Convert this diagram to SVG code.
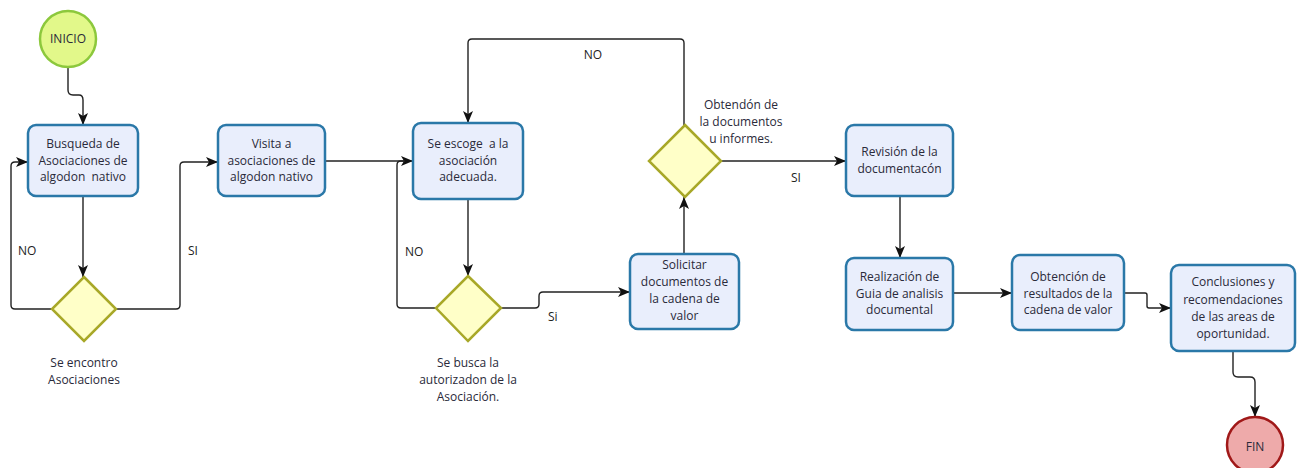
<svg xmlns="http://www.w3.org/2000/svg" width="1298" height="468" viewBox="0 0 1298 468">
<defs>
<marker id="arr" viewBox="0 0 12 10" refX="12" refY="5" markerWidth="12" markerHeight="10" markerUnits="userSpaceOnUse" orient="auto">
<path d="M0,0 L12,5 L0,10 L3,5 z" fill="#111"/>
</marker>
<style>
.box{fill:#e9eefc;stroke:#2a78a8;stroke-width:2.5}
.dia{fill:#ffffc8;stroke:#a8a828;stroke-width:2.5}
.t{font-family:"Open Sans","Noto Sans",sans-serif;font-size:12px;fill:#2a2a3a;text-anchor:middle;white-space:pre}
.lbl{font-family:"Open Sans","Noto Sans",sans-serif;font-size:12px;fill:#222;white-space:pre}
.c{fill:none;stroke:#222;stroke-width:1.4;marker-end:url(#arr)}
.cn{fill:none;stroke:#222;stroke-width:1.4}
</style>
</defs>
<rect width="1298" height="468" fill="#fff"/>
<g id="connectors">
<path class="c" d="M68,67 V90 Q68,95 73,95 H79 Q83,95 83,100 V125"/>
<path class="c" d="M83,196 V277"/>
<path class="c" d="M53,309 H15 Q11,309 11,305 V166 Q11,162 15,162 H28"/>
<path class="c" d="M116,309 H176 Q180,309 180,305 V166 Q180,162 184,162 H218"/>
<path class="c" d="M325,161 H413"/>
<path class="cn" d="M436,308 H401 Q397,308 397,304 V165 Q397,161 401,161 H405"/>
<path class="c" d="M468,199 V276"/>
<path class="c" d="M501,308 H535 Q539,308 539,304 V296 Q539,292 543,292 H630"/>
<path class="c" d="M684,254 V197"/>
<path class="c" d="M684,125 V43 Q684,39 680,39 H472 Q468,39 468,43 V123"/>
<path class="c" d="M721,161 H846"/>
<path class="c" d="M900,196 V258"/>
<path class="c" d="M953,293 H1012"/>
<path class="c" d="M1124,293 H1145 Q1147,293 1147,295 V306 Q1147,308 1149,308 H1171"/>
<path class="c" d="M1233,351 V372 Q1233,377 1238,377 H1250 Q1255,377 1255,382 V417"/>
<text class="lbl" x="18" y="255">NO</text>
<text class="lbl" x="188" y="255">SI</text>
<text class="lbl" x="405" y="256">NO</text>
<text class="lbl" x="548" y="321">Si</text>
<text class="lbl" x="593" y="59" text-anchor="middle">NO</text>
<text class="lbl" x="796" y="182" text-anchor="middle">SI</text>
</g>
<g id="inicio">
<circle cx="68" cy="39" r="28" fill="#e2f88a" stroke="#8cc83c" stroke-width="2.5"/>
<text class="t" x="68" y="43">INICIO</text>
</g>
<g id="busqueda">
<rect class="box" x="28" y="125" width="110" height="71" rx="8"/>
<text class="t" x="83" y="148">Busqueda de</text>
<text class="t" x="83" y="164.5">Asociaciones de</text>
<text class="t" x="83" y="181">algodon  nativo</text>
</g>
<g id="visita">
<rect class="box" x="218" y="125" width="107" height="71" rx="8"/>
<text class="t" x="271.5" y="148">Visita a</text>
<text class="t" x="271.5" y="164.5">asociaciones de</text>
<text class="t" x="271.5" y="181">algodon nativo</text>
</g>
<g id="encontro">
<polygon class="dia" points="84,277 116,309 84,341 52,309"/>
<text class="t" x="84" y="367">Se encontro</text>
<text class="t" x="84" y="384">Asociaciones</text>
</g>
<g id="escoge">
<rect class="box" x="413" y="123" width="110" height="76" rx="8"/>
<text class="t" x="468" y="148">Se escoge  a la</text>
<text class="t" x="468" y="164.5">asociación</text>
<text class="t" x="468" y="181">adecuada.</text>
</g>
<g id="autorizacion">
<polygon class="dia" points="468,276 501,308 468,341 436,308"/>
<text class="t" x="468" y="367">Se busca la</text>
<text class="t" x="468" y="384">autorizadon de la</text>
<text class="t" x="468" y="401">Asociación.</text>
</g>
<g id="solicitar">
<rect class="box" x="630" y="254" width="109" height="75" rx="8"/>
<text class="t" x="684.5" y="269">Solicitar</text>
<text class="t" x="684.5" y="286">documentos de</text>
<text class="t" x="684.5" y="303">la cadena de</text>
<text class="t" x="684.5" y="320">valor</text>
</g>
<g id="obtencion-docs">
<polygon class="dia" points="685,125 721,161 685,197 649,161"/>
<text class="t" x="741" y="109">Obtendón de</text>
<text class="t" x="741" y="126">la documentos</text>
<text class="t" x="741" y="143">u informes.</text>
</g>
<g id="revision">
<rect class="box" x="846" y="125" width="107" height="71" rx="8"/>
<text class="t" x="899.5" y="156">Revisión de la</text>
<text class="t" x="899.5" y="173">documentacón</text>
</g>
<g id="realizacion">
<rect class="box" x="846" y="258" width="107" height="72" rx="8"/>
<text class="t" x="899.5" y="281">Realización de</text>
<text class="t" x="899.5" y="298">Guia de analisis</text>
<text class="t" x="899.5" y="314">documental</text>
</g>
<g id="resultados">
<rect class="box" x="1012" y="255" width="112" height="75" rx="8"/>
<text class="t" x="1068" y="281">Obtención de</text>
<text class="t" x="1068" y="298">resultados de la</text>
<text class="t" x="1068" y="314">cadena de valor</text>
</g>
<g id="conclusiones">
<rect class="box" x="1171" y="265" width="124" height="86" rx="8"/>
<text class="t" x="1233" y="286">Conclusiones y</text>
<text class="t" x="1233" y="304">recomendaciones</text>
<text class="t" x="1233" y="321">de las areas de</text>
<text class="t" x="1233" y="338">oportunidad.</text>
</g>
<g id="fin">
<circle cx="1255" cy="445" r="28" fill="#eeaaaa" stroke="#a01818" stroke-width="2.5"/>
<text class="t" x="1255" y="451">FIN</text>
</g>
</svg>
